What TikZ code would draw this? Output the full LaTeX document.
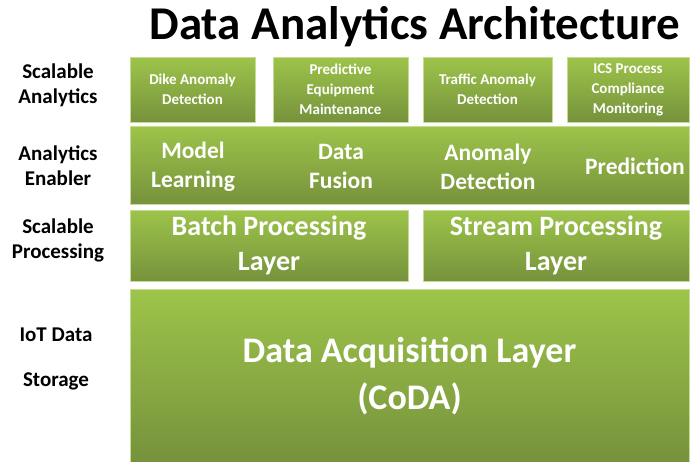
\documentclass[tikz,border=0pt]{standalone}
\usepackage{fontspec}
\setmainfont{Carlito}
\usetikzlibrary{positioning}
\definecolor{lightgreen}{RGB}{157,196,74}
\definecolor{darkgreen}{RGB}{118,146,60}
\definecolor{edgegreen}{RGB}{196,220,150}

\begin{document}
\begin{tikzpicture}[x=1pt,y=-1pt]
\tikzset{
    layer/.style={
        draw=edgegreen,
        line width=0.8pt,
        rectangle,
        top color=lightgreen,
        bottom color=darkgreen,
        text=white,
        align=center,
        inner sep=0pt
    },
    box/.style 2 args={
        layer,
        minimum width=#1,
        minimum height=#2
    },
    txt/.style 2 args={
        font=\bfseries\fontsize{#1}{#2}\selectfont
    },
    side-label/.style={
        align=center,
        text=black,
        txt={21}{25}
    },
    enabler-text/.style={
        align=center,
        text=white,
        txt={23.5}{29}
    },
}
\useasboundingbox (0,0) rectangle (691,461);

% title
\node[txt={47}{56}] (title) at (415,27) {Data Analytics Architecture};

% left column
\node[side-label] (sa-lab) at (58,85) {Scalable\\Analytics};
\node[side-label] (ae-lab) at (58,166) {Analytics\\Enabler};
\node[side-label] (sp-lab) at (58,240) {Scalable\\Processing};
\node[side-label] (iot-lab) at (56,335) {IoT Data};
\node[side-label] (st-lab) at (56,381) {Storage};

% scalable analytics
\node[box={125pt}{65pt}, txt={15}{20}] (dike) at (192.5,89.5) {Dike Anomaly\\Detection};
\node[box={135pt}{65pt}, txt={15}{20}] (pem) at (340.5,89.5) {Predictive\\Equipment\\Maintenance};
\node[box={129pt}{65pt}, txt={15}{20}] (traffic) at (487.5,89.5) {Traffic Anomaly\\Detection};
\node[box={122pt}{65pt}, txt={15}{20}] (ics) at (628,89.5) {ICS Process\\Compliance\\Monitoring};

% analytics enabler
\node[box={559pt}{78pt}] (enabler) at (409.5,165) {};
\node[enabler-text] (model) at (193,166.5) {Model\\Learning};
\node[enabler-text] (fusion) at (341,166.5) {Data\\Fusion};
\node[enabler-text] (anomaly) at (488,166.5) {Anomaly\\Detection};
\node[enabler-text] (predict) at (635,166.5) {Prediction};

% scalable processing
\node[box={278pt}{71pt}, txt={28}{35}] (batch) at (269,245.5) {Batch Processing\\Layer};
\node[box={266pt}{71pt}, txt={28}{35}] (stream) at (556,245.5) {Stream Processing\\Layer};

% storage
\node[box={559pt}{173pt}, txt={36}{47}] (coda) at (409.5,376) {Data Acquisition Layer\\(CoDA)};
\end{tikzpicture}
\end{document}
